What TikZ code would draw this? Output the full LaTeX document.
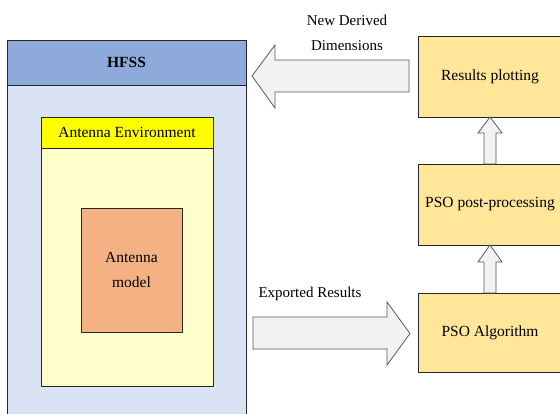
\documentclass[tikz,border=0pt]{standalone}
\usepackage{fontspec}
\setmainfont{Liberation Serif}
\begin{document}
\begin{tikzpicture}[x=1pt,y=-1pt,
  box/.style={draw=black!85,line width=0.8pt,inner sep=0pt,align=center,font=\fontsize{15.5}{25}\selectfont},
  blockarrow/.style={draw=black!65,fill=black!5,line width=0.8pt,line join=miter},
  lbl/.style={inner sep=0pt,align=center,font=\fontsize{15}{25}\selectfont}]
\useasboundingbox (0,0) rectangle (560,414);
\clip (0,0) rectangle (560,414);
% HFSS
\node[box,fill={rgb,255:red,218;green,227;blue,243},minimum width=239pt,minimum height=335pt] (body) at (126.5,252.5) {};
\node[box,fill={rgb,255:red,142;green,170;blue,219},minimum width=239pt,minimum height=45pt,font=\fontsize{15.5}{18}\selectfont\bfseries] (hfss) at (126.5,62.5) {HFSS};
% environment
\node[box,fill={rgb,255:red,255;green,255;blue,204},minimum width=172pt,minimum height=238pt] (env) at (127,267) {};
\node[box,fill={rgb,255:red,255;green,255;blue,0},minimum width=172pt,minimum height=31pt] (envh) at (127,132.5) {Antenna Environment};
\node[box,fill={rgb,255:red,244;green,177;blue,131},minimum width=101pt,minimum height=124pt] (model) at (131.5,270) {Antenna\\model};
% right boxes
\tikzset{pso/.style={box,fill={rgb,255:red,255;green,230;blue,153},minimum width=144pt}}
\node[pso,minimum height=81pt] (rp) at (490,76.5) {Results plotting};
\node[pso,minimum height=81pt] (pp) at (490,204.5) {PSO post-processing};
\node[pso,minimum height=79pt] (pa) at (490,332.5) {PSO Algorithm};
% up arrows
\draw[blockarrow] (484,164) -- (484,133) -- (478,133) -- (490,117) -- (502,133) -- (496,133) -- (496,164) -- cycle;
\draw[blockarrow] (484,293) -- (484,262) -- (478,262) -- (490,245) -- (502,262) -- (496,262) -- (496,293) -- cycle;
% left arrow
\draw[blockarrow] (409,60) -- (275,60) -- (275,45) -- (252,76) -- (275,108) -- (275,92) -- (409,92) -- cycle;
\node[lbl] (nd) at (347,33) {New Derived\\Dimensions};
% right arrow
\draw[blockarrow] (253,317) -- (387,317) -- (387,302) -- (410,333.5) -- (387,365) -- (387,349) -- (253,349) -- cycle;
\node[lbl] (er) at (310,294) {Exported Results};
\end{tikzpicture}
\end{document}
